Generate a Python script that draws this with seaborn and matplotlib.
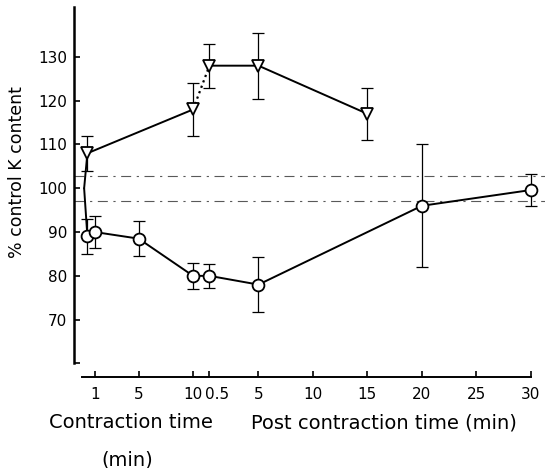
"""Contenido de K (% del control) durante y despues de la contraccion."""

import matplotlib

matplotlib.use("Agg")
import matplotlib.pyplot as plt
import matplotlib.transforms as mtransforms
import pandas as pd
import seaborn as sns

sns.set_theme(style="ticks")
plt.rcParams["font.family"] = ["DejaVu Sans"]

# --- datos ---
control_time = [0]
control_value = [100]

# triangulos (serie superior)
tri_contr_time = [0.3, 10]
tri_contr_value = [108, 118]
tri_contr_err = [4, 6]
tri_post_time = [0.5, 5, 15]
tri_post_value = [128, 128, 117]
tri_post_err = [5, 7.5, 6]

# circulos (serie inferior)
circ_contr_time = [0.3, 1, 5, 10]
circ_contr_value = [89, 90, 88.5, 80]
circ_contr_err = [4, 3.6, 4, 3]
circ_post_time = [0.5, 5, 20, 30]
circ_post_value = [80, 78, 96, 99.6]
circ_post_err = [2.8, 6.2, 14, 3.7]

# banda de control (lineas discontinuas)
control_band = [97.1, 102.8]

contr_ticks = [1, 5, 10]
post_ticks = [0.5, 5, 10, 15, 20, 25, 30]
y_ticks = [60, 70, 80, 90, 100, 110, 120, 130]
y_ticklabels = ["", "70", "80", "90", "100", "110", "120", "130"]

POST_OFFSET = 11  # el eje post-contraccion empieza ~1 min despues del minuto 10


def series_df(ctime, cval, ptime, pval):
    x = list(control_time) + list(ctime) + [t + POST_OFFSET for t in ptime]
    y = list(control_value) + list(cval) + list(pval)
    return pd.DataFrame({"x": x, "y": y})


def main() -> None:
    fig = plt.figure(figsize=(5.45, 4.68), dpi=100)
    ax = fig.add_axes([74 / 545, 91 / 468, 471 / 545, 370 / 468])

    for yv in control_band:
        ax.axhline(yv, color="0.35", lw=0.8, ls=(0, (9, 5, 2, 5)), zorder=1)

    lw = 1.4
    # circulos: linea continua
    circ = series_df(circ_contr_time, circ_contr_value, circ_post_time, circ_post_value)
    sns.lineplot(data=circ, x="x", y="y", sort=False, color="black", lw=lw, ax=ax,
                 zorder=2)

    # triangulos: continuo dentro de cada tramo, punteado entre tramos
    tri_a = pd.DataFrame({"x": control_time + tri_contr_time,
                          "y": control_value + tri_contr_value})
    tri_b = pd.DataFrame({"x": [t + POST_OFFSET for t in tri_post_time],
                          "y": tri_post_value})
    tri_bridge = pd.DataFrame({"x": [tri_contr_time[-1], tri_post_time[0] + POST_OFFSET],
                               "y": [tri_contr_value[-1], tri_post_value[0]]})
    sns.lineplot(data=tri_a, x="x", y="y", sort=False, color="black", lw=lw, ax=ax, zorder=2)
    sns.lineplot(data=tri_b, x="x", y="y", sort=False, color="black", lw=lw, ax=ax, zorder=2)
    sns.lineplot(data=tri_bridge, x="x", y="y", sort=False, color="black", lw=1.6,
                 ls=(0, (1, 1.6)), ax=ax, zorder=2)

    ebkw = dict(fmt="none", ecolor="black", elinewidth=0.9, capsize=4.5, capthick=0.9,
                zorder=3)
    mkw = dict(color="black", linestyle="none", markerfacecolor="white",
               markeredgecolor="black", markeredgewidth=1.3, zorder=4)

    cx = circ_contr_time + [t + POST_OFFSET for t in circ_post_time]
    cy = circ_contr_value + circ_post_value
    ce = circ_contr_err + circ_post_err
    ax.errorbar(cx, cy, yerr=ce, **ebkw)
    ax.plot(cx, cy, marker="o", markersize=8.5, **mkw)

    tx = tri_contr_time + [t + POST_OFFSET for t in tri_post_time]
    ty = tri_contr_value + tri_post_value
    te = tri_contr_err + tri_post_err
    ax.errorbar(tx, ty, yerr=te, **ebkw)
    ax.plot(tx, ty, marker="v", markersize=9, **mkw)

    # ejes
    ax.set_xlim(-0.93, 42.3)
    ax.set_ylim(56.9, 141.4)
    ax.set_xlabel("")
    ax.set_ylabel("")
    xt = contr_ticks + [t + POST_OFFSET for t in post_ticks]
    xl = [f"{t:g}" for t in contr_ticks] + [f"{t:g}" for t in post_ticks]
    ax.set_xticks(xt)
    ax.set_xticklabels(xl)
    ax.set_yticks(y_ticks)
    ax.set_yticklabels(y_ticklabels)
    ax.tick_params(axis="both", direction="in", length=4, width=1.2, labelsize=11,
                   colors="black")
    ax.tick_params(axis="x", pad=7)
    ax.tick_params(axis="y", pad=5)
    # en el original "0.5" queda pegado a la derecha de "10"
    lab = ax.get_xticklabels()[len(contr_ticks)]
    lab.set_transform(lab.get_transform()
                      + mtransforms.ScaledTranslation(8 / 100, 0, fig.dpi_scale_trans))

    sns.despine(ax=ax)
    ax.spines["left"].set_bounds(60, 141.4)
    ax.spines["left"].set_linewidth(1.8)
    ax.spines["bottom"].set_bounds(-0.2, 41)
    ax.spines["bottom"].set_linewidth(1.4)
    for s in ("left", "bottom"):
        ax.spines[s].set_color("black")

    tkw = dict(ha="center", va="center", color="black")
    fig.text(131 / 545, 1 - 423 / 468, "Contraction time", fontsize=14, **tkw)
    fig.text(127 / 545, 1 - 460 / 468, "(min)", fontsize=14, **tkw)
    fig.text(384 / 545, 1 - 423 / 468, "Post contraction time (min)", fontsize=14, **tkw)
    fig.text(17 / 545, 1 - 172 / 468, "% control K content", rotation=90, fontsize=12.5,
             **tkw)

    fig.savefig("out.png", dpi=100)
    plt.close(fig)


if __name__ == "__main__":
    main()
